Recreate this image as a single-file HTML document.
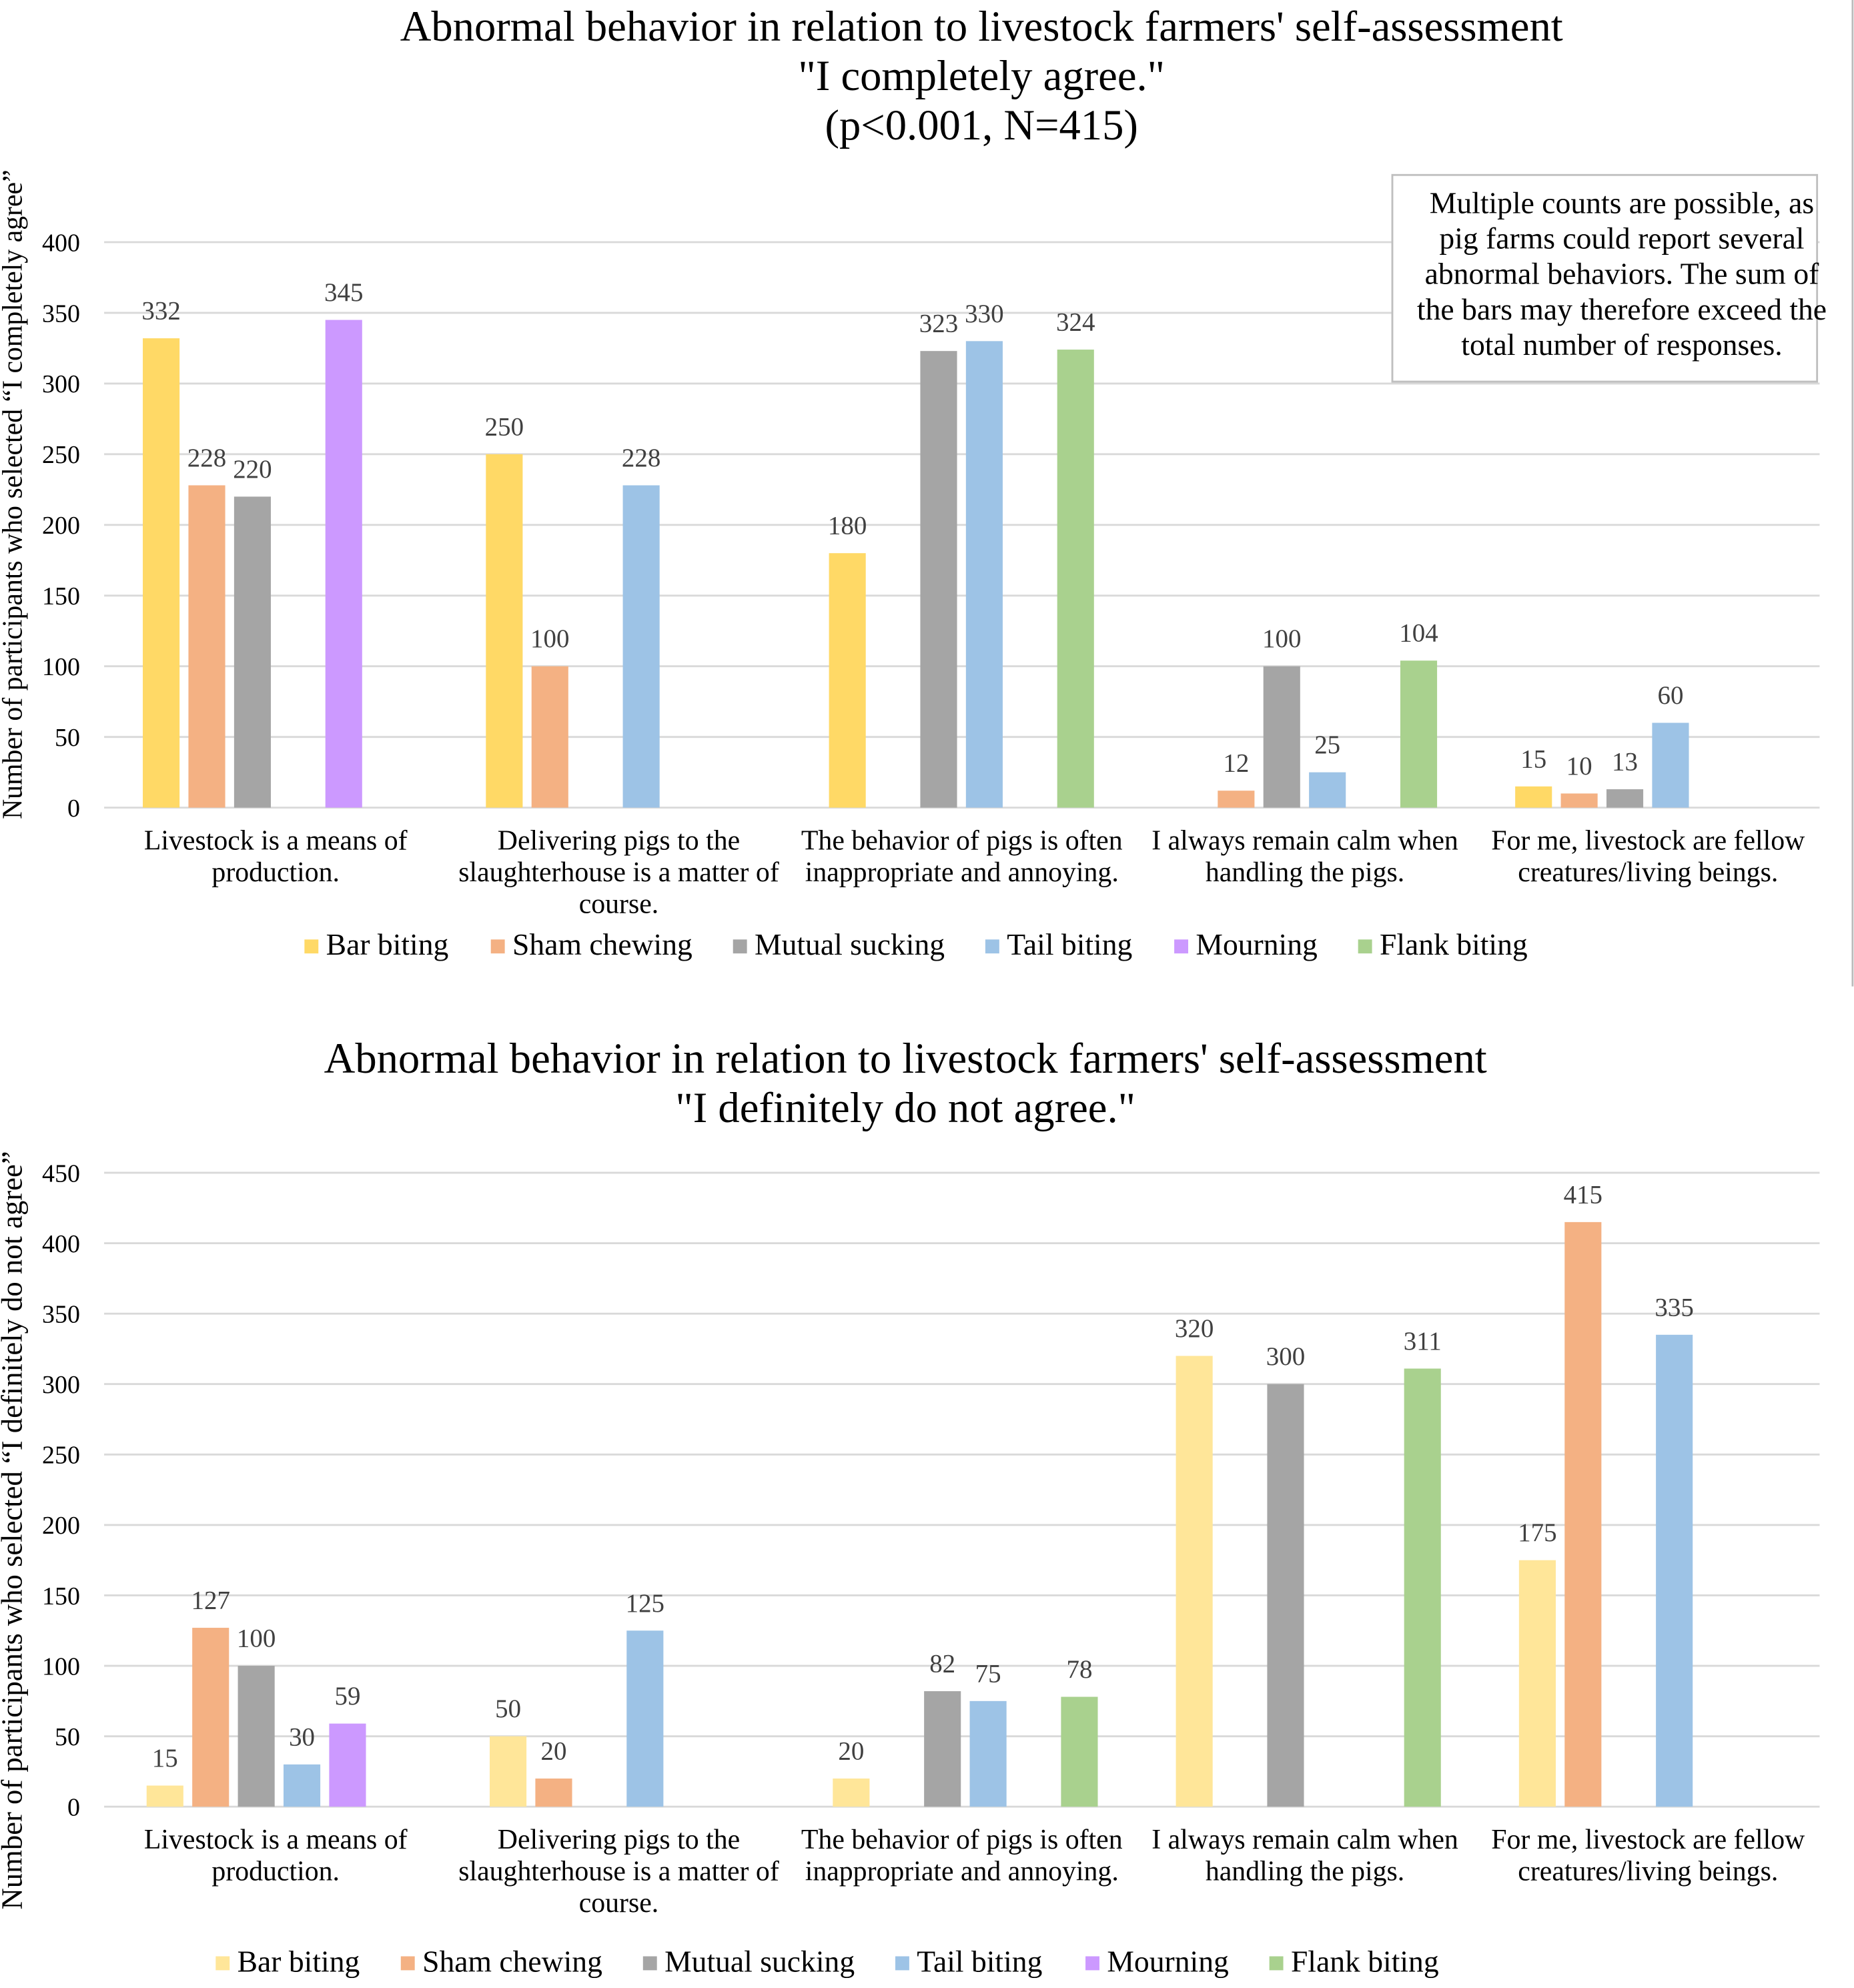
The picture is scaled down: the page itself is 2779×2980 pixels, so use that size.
<!DOCTYPE html>
<html><head><meta charset="utf-8">
<style>
html,body{margin:0;padding:0;background:#fff;}
svg{display:block;}
text{font-family:"Liberation Serif",serif;}
</style></head>
<body>
<svg id="chart" width="2779" height="2980" viewBox="0 0 1462 1568" xmlns="http://www.w3.org/2000/svg">
<rect x="0" y="0" width="1462" height="1568" fill="#fff"/>
<line x1="1461" y1="0" x2="1461" y2="778" stroke="#bbb" stroke-width="1.5"/>
<g id="topChart"></g>
<g id="botChart"></g>
</svg>
<script>
const categories = [["Livestock is a means of","production."],["Delivering pigs to the","slaughterhouse is a matter of","course."],["The behavior of pigs is often","inappropriate and annoying."],["I always remain calm when","handling the pigs."],["For me, livestock are fellow","creatures/living beings."]];
const seriesNames = ["Bar biting","Sham chewing","Mutual sucking","Tail biting","Mourning","Flank biting"];
const topBar = [332,250,180,0,15];
const topSham = [228,100,0,12,10];
const topMutual = [220,0,323,100,13];
const topTail = [0,228,330,25,60];
const topMourning = [345,0,0,0,0];
const topFlank = [0,0,324,104,0];
const botBar = [15,50,20,320,175];
const botSham = [127,20,0,0,415];
const botMutual = [100,0,82,300,0];
const botTail = [30,125,75,0,335];
const botMourning = [59,0,0,0,0];
const botFlank = [0,0,78,311,0];
const topTicks = [0,50,100,150,200,250,300,350,400];
const botTicks = [0,50,100,150,200,250,300,350,400,450];

const NS="http://www.w3.org/2000/svg";
const FF='"Liberation Serif", serif';
function mk(parent,tag,attrs,txt){const e=document.createElementNS(NS,tag);for(const k in attrs)e.setAttribute(k,attrs[k]);if(tag==='text')e.setAttribute('font-family',FF);if(txt!==undefined)e.textContent=txt;parent.appendChild(e);return e;}

function drawChart(g,cfg){
  const x0=82,x1=1435,gw=(x1-x0)/5;
  const y=v=>cfg.y0-(v/cfg.max)*(cfg.y0-cfg.yTop);
  cfg.titles.forEach((t,i)=>{
    const e=mk(g,'text',{x:cfg.titleX,y:cfg.titleY+i*39,'text-anchor':'middle','font-size':34,fill:'#000'},t);
    
    
  });
  cfg.ticks.forEach(t=>{
    const l=mk(g,'line',{x1:x0,x2:x1,y1:y(t),y2:y(t),stroke:'#d9d9d9','stroke-width':1.5});
    
    
    const e=mk(g,'text',{x:63,y:y(t)+7,'text-anchor':'end','font-size':20,fill:'#000'},t);
    
    
  });
  const yt=mk(g,'text',{transform:`translate(17,${cfg.axisMid}) rotate(-90)`,'text-anchor':'middle','font-size':cfg.axisFont,fill:'#000'},cfg.axisTitle);
  
  
  cfg.series.forEach((vals,s)=>{
    vals.forEach((v,c)=>{
      if(!v)return;
      const cx=x0+c*gw+cfg.off+s*36;
      const r=mk(g,'rect',{x:cx-14.5,y:y(v),width:29,height:y(0)-y(v),fill:cfg.colors[s]});
      
      
      const e=mk(g,'text',{x:cx,y:y(v)-15,'text-anchor':'middle','font-size':20.5,fill:'#404040'},v);
      
      
    });
  });
  categories.forEach((lines,c)=>{
    lines.forEach((t,i)=>{
      const e=mk(g,'text',{x:x0+c*gw+gw/2,y:cfg.y0+33+i*25,'text-anchor':'middle','font-size':22,fill:'#000'},t);
      
      
    });
  });
  seriesNames.forEach((n,s)=>{
    const lx=cfg.legendX[s];
    const sq=mk(g,'rect',{x:lx,y:cfg.legendY-12,width:11,height:11,fill:cfg.colors[s]});
    
    
    const e=mk(g,'text',{x:lx+17,y:cfg.legendY,'font-size':24,fill:'#000'},n);
    
    
  });
}

drawChart(document.getElementById('topChart'),{
  titles:["Abnormal behavior in relation to livestock farmers' self-assessment","\"I completely agree.\"","(p<0.001, N=415)"],
  titleX:774,titleY:32,y0:637,yTop:191,max:400,ticks:topTicks,off:45,
  axisTitle:"Number of participants who selected “I completely agree”",axisMid:390,axisFont:22,
  series:[topBar,topSham,topMutual,topTail,topMourning,topFlank],
  colors:["#FFD966","#F4B183","#A5A5A5","#9DC3E6","#CC99FF","#A9D18E"],
  legendX:[240,387,578,777,926,1071],legendY:753
});
drawChart(document.getElementById('botChart'),{
  titles:["Abnormal behavior in relation to livestock farmers' self-assessment","\"I definitely do not agree.\""],
  titleX:714,titleY:846,y0:1425,yTop:925,max:450,ticks:botTicks,off:48,
  axisTitle:"Number of participants who selected “I definitely do not agree”",axisMid:1207,axisFont:23.5,
  series:[botBar,botSham,botMutual,botTail,botMourning,botFlank],
  colors:["#FFE699","#F4B183","#A5A5A5","#9DC3E6","#CC99FF","#A9D18E"],
  legendX:[170,316,507,706,856,1001],legendY:1555
});

const topGroup=document.getElementById('topChart');
const box=mk(topGroup,'rect',{x:1098,y:138,width:335,height:163,fill:'#fff',stroke:'#bfbfbf','stroke-width':1.5});


["Multiple counts are possible, as","pig farms could report several","abnormal behaviors. The sum of","the bars may therefore exceed the","total number of responses."].forEach((t,i)=>{
  const e=mk(topGroup,'text',{x:1279,y:168+i*28,'text-anchor':'middle','font-size':24,fill:'#000'},t);
  
  
});
</script>
</body></html>
